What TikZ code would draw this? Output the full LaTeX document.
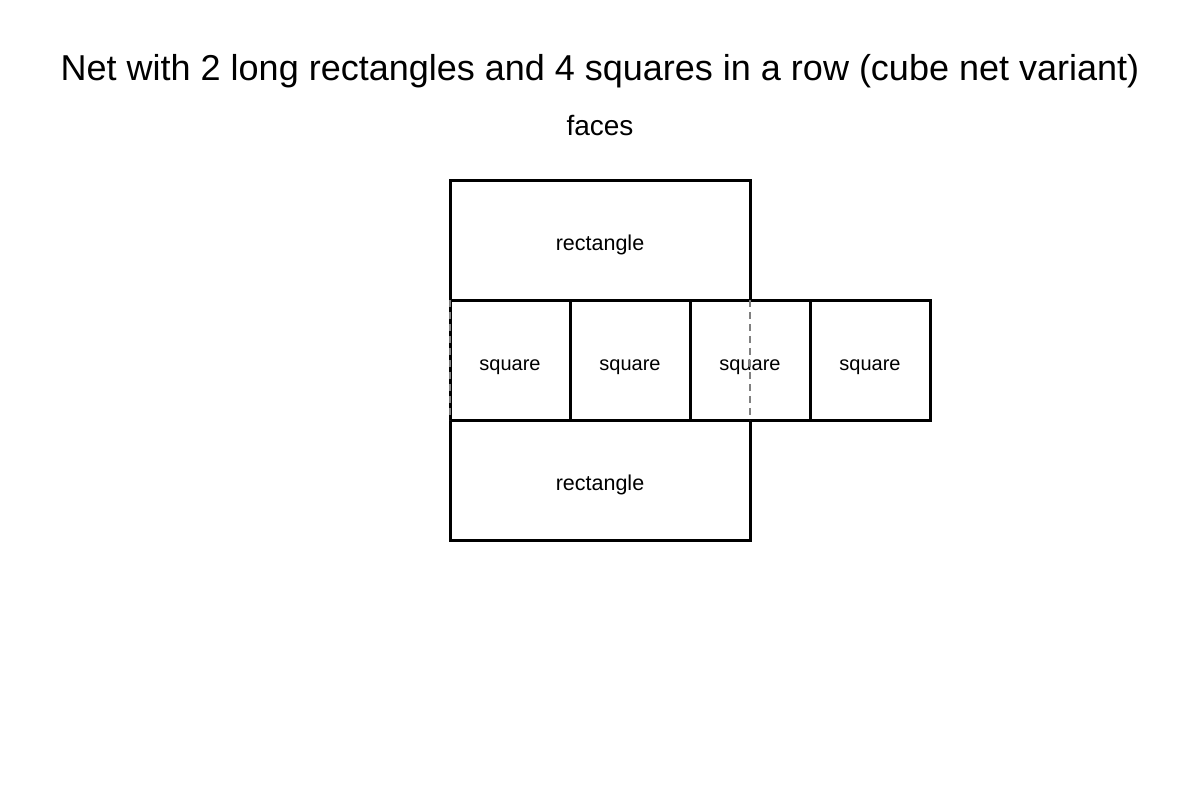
\documentclass[tikz,border=0pt]{standalone}
\usepackage{fontspec}
\setmainfont{Liberation Sans}
\begin{document}
\begin{tikzpicture}[x=1pt,y=-1pt,
  face/.style={draw=black,line width=3pt,rectangle,inner sep=0pt,outer sep=0pt},
  rectface/.style={face,minimum width=300pt,minimum height=120pt},
  sq/.style={face,minimum width=120pt,minimum height=120pt},
  rlab/.style={font=\fontsize{21.5}{24}\selectfont,yshift=-5pt},
  slab/.style={font=\fontsize{20}{24}\selectfont,yshift=-7pt},
  fold/.style={draw=gray,line width=2pt,dash pattern=on 7pt off 5pt}]
\useasboundingbox (0,0) rectangle (1200,800);
\node (title) at (600,71) {\fontsize{36}{42}\selectfont Net with 2 long rectangles and 4 squares in a row (cube net variant)};
\node (sub) at (600,126) {\fontsize{28}{32}\selectfont faces};
\node[rectface] (top) at (600,240) {};
\node[rectface] (bot) at (600,480) {};
\node[sq] (s1) at (510,360) {};
\node[sq] (s2) at (630,360) {};
\node[sq] (s3) at (750,360) {};
\node[sq] (s4) at (870,360) {};
\node[rlab] (toplab) at (top.center) {rectangle};
\node[rlab] (botlab) at (bot.center) {rectangle};
\node[slab] (l1) at (s1.center) {square};
\node[slab] (l2) at (s2.center) {square};
\node[slab] (l3) at (s3.center) {square};
\node[slab] (l4) at (s4.center) {square};
\draw[fold] (s1.north west) -- (s1.south west);
\draw[fold] (top.south east) -- (bot.north east);
\end{tikzpicture}
\end{document}
